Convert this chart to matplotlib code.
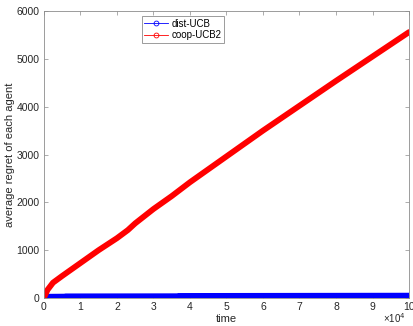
import numpy as np
import matplotlib
matplotlib.use("Agg")
import matplotlib.pyplot as plt
from matplotlib.lines import Line2D
from matplotlib.ticker import FuncFormatter

t_red = [0, 1000, 2500, 5000, 10000, 15000, 20000, 23000, 25000, 30000,
         35000, 40000, 50000, 60000, 70000, 80000, 90000, 100000]
coop_ucb2 = [0, 170, 320, 460, 730, 1000, 1250, 1420, 1560, 1860,
             2130, 2420, 2960, 3500, 4020, 4540, 5050, 5560]

t_blue = [0, 500, 6000, 6100, 37000, 37100, 100000]
dist_ucb = [0, 25, 28, 33, 36, 42, 48]

plt.rcParams["font.family"] = ["Liberation Sans", "DejaVu Sans"]
plt.rcParams["font.size"] = 7.5

fig = plt.figure(figsize=(4.14, 3.26), dpi=100)
ax = fig.add_axes([0.106, 0.086, 0.882, 0.880])

ax.plot(t_blue, dist_ucb, color="blue", lw=4.2, solid_capstyle="round",
        solid_joinstyle="round")
ax.plot(t_red, coop_ucb2, color="red", lw=4.2, solid_capstyle="round",
        solid_joinstyle="round")

ax.set_xlim(0, 100000)
ax.set_ylim(0, 6000)
ax.set_xticks(np.arange(0, 100001, 10000))
ax.xaxis.set_major_formatter(FuncFormatter(lambda v, p: f"{v / 1e4:g}"))
ax.set_yticks(np.arange(0, 6001, 1000))

grey = "#8c8c8c"
for s in ax.spines.values():
    s.set_color(grey)
    s.set_linewidth(0.6)
ax.tick_params(direction="in", length=3, width=0.5, color=grey,
               top=True, right=True, labelcolor="#262626", pad=3)

ax.set_xlabel("time", fontsize=8, color="#262626", labelpad=1)
ax.set_ylabel("average regret of each agent", fontsize=8, color="#262626",
              labelpad=1)
ax.text(0.99, -0.093, "×10$^{4}$", transform=ax.transAxes,
        ha="right", va="bottom", fontsize=7, color="#262626")

handles = [
    Line2D([], [], color="blue", lw=0.6, marker="o", markersize=3.5,
           markerfacecolor="none", markeredgewidth=0.6),
    Line2D([], [], color="red", lw=0.6, marker="o", markersize=3.5,
           markerfacecolor="none", markeredgewidth=0.6),
]
leg = ax.legend(handles, ["dist-UCB", "coop-UCB2"], loc="upper left",
                bbox_to_anchor=(0.268, 0.982), fancybox=False, framealpha=1,
                edgecolor=grey, fontsize=7, handlelength=2.4,
                borderpad=0.25, labelspacing=0.15, handletextpad=0.4,
                borderaxespad=0)
leg.get_frame().set_linewidth(0.6)

fig.savefig("out.png", dpi=100)
